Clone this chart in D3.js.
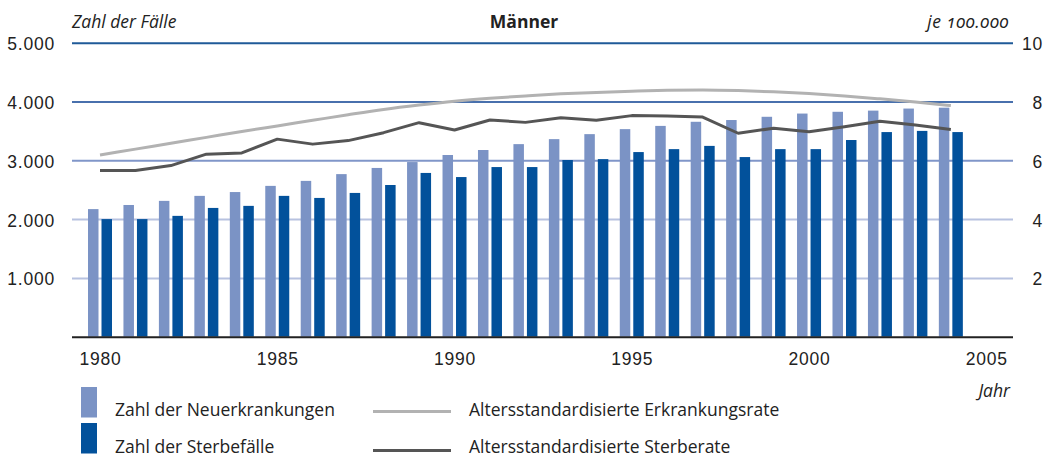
<!DOCTYPE html>
<html>
<head>
<meta charset="utf-8">
<script src="https://cdn.jsdelivr.net/npm/d3@7"></script>
<style>
  body { margin: 0; background: #fff; }
  svg { font-family: "Open Sans", "Noto Sans", sans-serif; font-variant-numeric: oldstyle-nums; }
  .domain { display: none; }
</style>
</head>
<body>
<div id="chart"></div>
<script>
// years on the x axis (one bar pair per year)
const years = [1980, 1981, 1982, 1983, 1984, 1985, 1986, 1987, 1988, 1989,
  1990, 1991, 1992, 1993, 1994, 1995, 1996, 1997, 1998, 1999,
  2000, 2001, 2002, 2003, 2004];
// Zahl der Neuerkrankungen
const neuerkrankungen = [2170, 2240, 2310, 2395, 2460, 2565, 2650, 2765, 2870, 2970,
  3090, 3175, 3275, 3360, 3445, 3530, 3585, 3655, 3685, 3740,
  3795, 3825, 3845, 3880, 3895];
// Zahl der Sterbefälle
const sterbefaelle = [2000, 2000, 2055, 2190, 2225, 2395, 2360, 2445, 2580, 2785,
  2715, 2885, 2885, 3005, 3020, 3140, 3190, 3245, 3055, 3190,
  3190, 3345, 3480, 3500, 3480];
// Altersstandardisierte Erkrankungsrate (je 100.000)
const erkrankungsrate = [6.18, 6.38, 6.58, 6.78, 6.98, 7.17, 7.36, 7.55, 7.73, 7.88,
  8.01, 8.11, 8.19, 8.26, 8.31, 8.35, 8.38, 8.39, 8.37, 8.33,
  8.27, 8.19, 8.09, 7.98, 7.86];
// Altersstandardisierte Sterberate (je 100.000)
const sterberate = [5.65, 5.65, 5.82, 6.21, 6.25, 6.72, 6.55, 6.67, 6.94, 7.28,
  7.03, 7.37, 7.29, 7.45, 7.36, 7.52, 7.51, 7.47, 6.92, 7.09,
  6.97, 7.14, 7.33, 7.20, 7.05];

const countTicks = [1000, 2000, 3000, 4000, 5000];
const rateTicks = [2, 4, 6, 8, 10];
const yearTicks = [1980, 1985, 1990, 1995, 2000, 2005];

const W = 1045, H = 456;
const plotLeft = 72, plotRight = 1013, plotTop = 42.7, plotBottom = 336.7;
const fs = "17.5px";

const de = d3.formatLocale({decimal: ",", thousands: ".", grouping: [3], currency: ["", " €"]});

const svg = d3.select("#chart").append("svg")
  .attr("width", W)
  .attr("height", H);

const x = d3.scaleLinear().domain([1980, 2005]).range([100, 986.3]);
const yCount = d3.scaleLinear().domain([0, 5000]).range([plotBottom, plotTop]);
const yRate = d3.scaleLinear().domain([0, 10]).range([plotBottom, plotTop]);

const gridColor = {1000: "#b7c2e0", 2000: "#b7c2e0", 3000: "#8096c9", 4000: "#4870ad", 5000: "#1f5a98"};

// left axis + gridlines
const gLeft = svg.append("g")
  .attr("transform", `translate(${plotLeft},0)`)
  .call(d3.axisLeft(yCount).tickValues(countTicks).tickSize(-(plotRight - plotLeft)).tickPadding(17).tickFormat(de.format(",")));
gLeft.selectAll(".tick line")
  .attr("stroke", d => gridColor[d])
  .attr("stroke-width", 2);
gLeft.selectAll(".tick text")
  .attr("fill", "#222")
  .attr("dy", "0.4em")
  .style("letter-spacing", "0.8px")
  .style("font-size", fs);

// right axis
const gRight = svg.append("g")
  .attr("transform", `translate(${plotRight},0)`)
  .call(d3.axisRight(yRate).tickValues(rateTicks).tickSize(0).tickPadding(30));
gRight.selectAll(".tick text")
  .attr("text-anchor", "end")
  .attr("fill", "#222")
  .attr("dy", "0.4em")
  .style("letter-spacing", "0.8px")
  .style("font-size", fs);

// bars
const barW = 10.5;
svg.append("g").selectAll("rect")
  .data(years)
  .join("rect")
  .attr("x", (d) => x(d) - 12)
  .attr("y", (d, i) => yCount(neuerkrankungen[i]))
  .attr("width", barW)
  .attr("height", (d, i) => plotBottom - yCount(neuerkrankungen[i]))
  .attr("fill", "#7b93c5");

svg.append("g").selectAll("rect")
  .data(years)
  .join("rect")
  .attr("x", (d) => x(d) + 1.5)
  .attr("y", (d, i) => yCount(sterbefaelle[i]))
  .attr("width", barW)
  .attr("height", (d, i) => plotBottom - yCount(sterbefaelle[i]))
  .attr("fill", "#02519b");

// lines
const line = d3.line()
  .x(d => x(d[0]))
  .y(d => yRate(d[1]));

svg.append("path")
  .datum(d3.zip(years, erkrankungsrate))
  .attr("fill", "none")
  .attr("stroke", "#b2b2b2")
  .attr("stroke-width", 3)
  .attr("d", line.curve(d3.curveMonotoneX));

svg.append("path")
  .datum(d3.zip(years, sterberate))
  .attr("fill", "none")
  .attr("stroke", "#555")
  .attr("stroke-width", 3)
  .attr("stroke-linejoin", "round")
  .attr("d", line.curve(d3.curveLinear));

// baseline + x axis
const gBottom = svg.append("g")
  .attr("transform", `translate(0,${plotBottom})`)
  .call(d3.axisBottom(x).tickValues(yearTicks).tickSize(0).tickPadding(16).tickFormat(d3.format("d")));
gBottom.selectAll(".tick text")
  .attr("fill", "#222")
  .style("letter-spacing", "0.8px")
  .style("font-size", fs);

svg.append("line")
  .attr("x1", plotLeft).attr("x2", plotRight)
  .attr("y1", plotBottom + 0.5).attr("y2", plotBottom + 0.5)
  .attr("stroke", "#222")
  .attr("stroke-width", 2);

// titles
svg.append("text")
  .attr("x", plotLeft).attr("y", 28)
  .style("font-size", fs).style("font-style", "italic")
  .attr("fill", "#222")
  .text("Zahl der Fälle");
svg.append("text")
  .attr("x", 524).attr("y", 28)
  .attr("text-anchor", "middle")
  .style("font-size", fs).style("font-weight", "bold")
  .attr("fill", "#222")
  .text("Männer");
svg.append("text")
  .attr("x", 1009).attr("y", 28)
  .attr("text-anchor", "end")
  .style("font-size", fs).style("font-style", "italic")
  .style("letter-spacing", "0.6px")
  .attr("fill", "#222")
  .text("je 100.000");
svg.append("text")
  .attr("x", 1010).attr("y", 397)
  .attr("text-anchor", "end")
  .style("font-size", fs).style("font-style", "italic")
  .attr("fill", "#222")
  .text("Jahr");

// legend
const legBars = [
  {label: "Zahl der Neuerkrankungen", color: "#7b93c5", y: 387, base: 416},
  {label: "Zahl der Sterbefälle", color: "#02519b", y: 423, base: 452.5}
];
const legLines = [
  {label: "Altersstandardisierte Erkrankungsrate", color: "#b2b2b2", y: 411.5, base: 416},
  {label: "Altersstandardisierte Sterberate", color: "#555", y: 450.5, base: 452.5}
];
const lb = svg.append("g").selectAll("g").data(legBars).join("g");
lb.append("rect")
  .attr("x", 81).attr("y", d => d.y)
  .attr("width", 16).attr("height", 30.5)
  .attr("fill", d => d.color);
lb.append("text")
  .attr("x", 115).attr("y", d => d.base)
  .style("font-size", fs)
  .attr("fill", "#222")
  .text(d => d.label);

const ll = svg.append("g").selectAll("g").data(legLines).join("g");
ll.append("line")
  .attr("x1", 373).attr("x2", 451)
  .attr("y1", d => d.y).attr("y2", d => d.y)
  .attr("stroke", d => d.color)
  .attr("stroke-width", 3);
ll.append("text")
  .attr("x", 469).attr("y", d => d.base)
  .style("font-size", fs)
  .attr("fill", "#222")
  .text(d => d.label);
</script>
</body>
</html>
